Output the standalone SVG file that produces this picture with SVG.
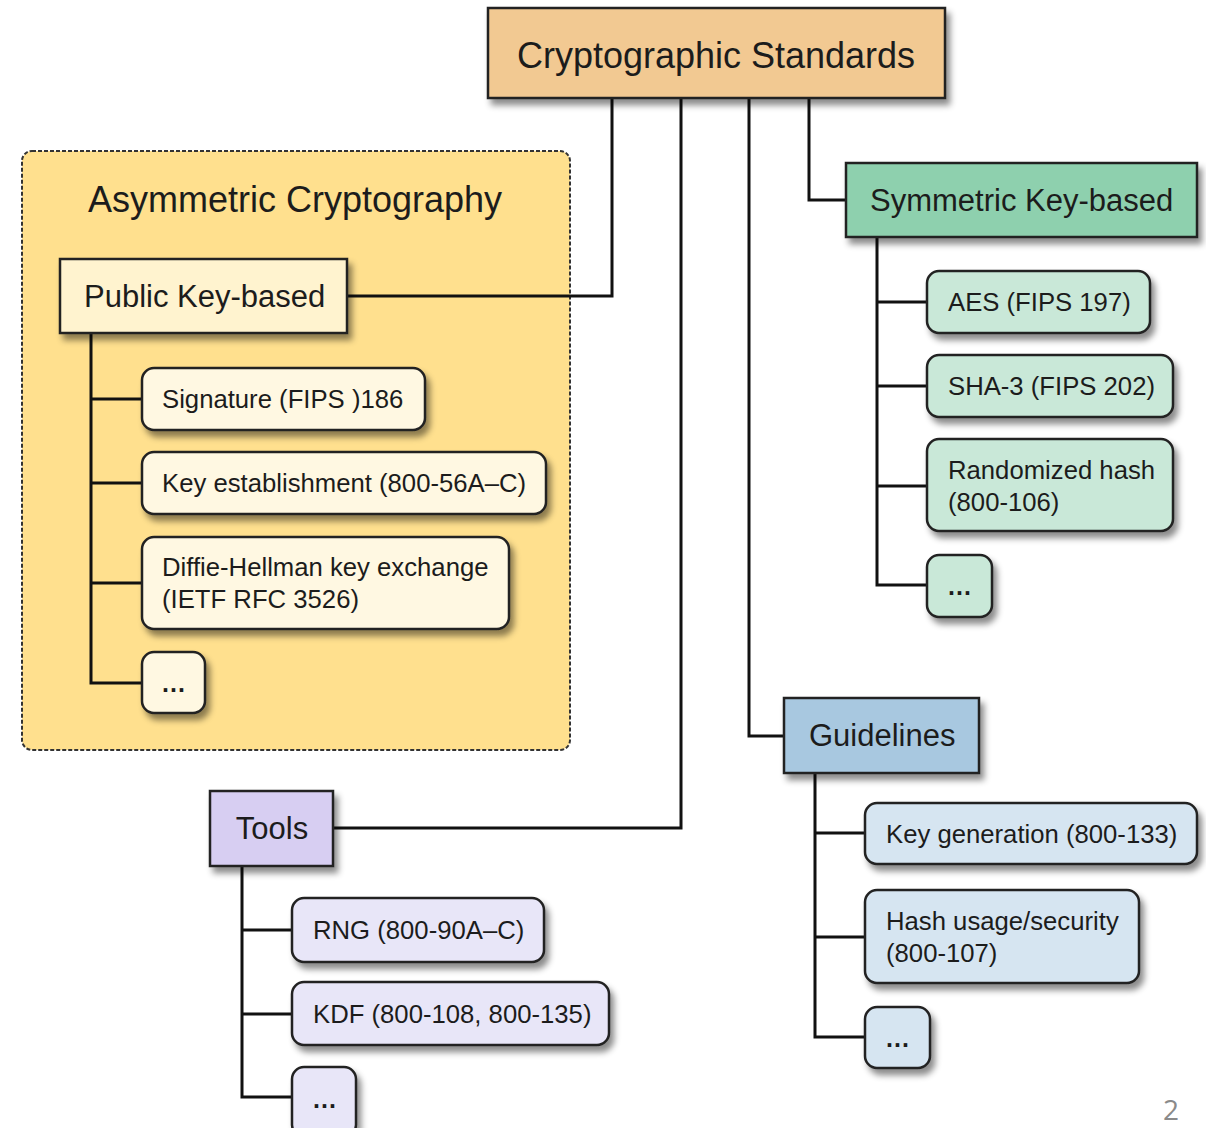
<svg xmlns="http://www.w3.org/2000/svg" width="1206" height="1128" viewBox="0 0 1206 1128">
<defs>
<filter id="sh" x="-10%" y="-20%" width="130%" height="160%">
<feDropShadow dx="4" dy="6" stdDeviation="3" flood-color="#000" flood-opacity="0.45"/>
</filter>
<style>
.box{stroke:#222;stroke-width:2.5;filter:url(#sh)}
.t{font-family:"Liberation Sans",Arial,sans-serif;fill:#1c1c1c}
.big{font-size:36px}
.mid{font-size:31px}
.sm{font-size:25.7px}
.dots{font-size:25px;font-weight:bold;letter-spacing:1px}
.con{fill:none;stroke:#111;stroke-width:3}
.top{fill:#F2C992}
.asym{fill:#FFE08E;stroke:#333;stroke-width:2;stroke-dasharray:4 2}
.pk{fill:#FFF3CF}
.pkc{fill:#FFF8E2}
.sym{fill:#8ED0AE}
.symc{fill:#C9E8D8}
.tool{fill:#D7CEF2}
.toolc{fill:#E8E6F8}
.gl{fill:#A8C8E0}
.glc{fill:#D6E5F1}
</style>
</defs>
<rect width="1206" height="1128" fill="#fff"/>

<g id="asymmetric-group">
<rect class="asym" x="22" y="151" width="548" height="599" rx="10"/>
<text class="t big" x="88" y="212">Asymmetric Cryptography</text>
</g>

<g id="connectors">
<path class="con" d="M612 98 V296 H347"/>
<path class="con" d="M681 98 V828 H333"/>
<path class="con" d="M749 98 V736 H784"/>
<path class="con" d="M809 98 V200 H846"/>
<path class="con" d="M91 333 V683 H142 M91 399 H142 M91 483 H142 M91 583 H142"/>
<path class="con" d="M877 237 V585 H927 M877 302 H927 M877 386 H927 M877 486 H927"/>
<path class="con" d="M242 866 V1097 H292 M242 930 H292 M242 1014 H292"/>
<path class="con" d="M815 773 V1037 H865 M815 833 H865 M815 937 H865"/>
</g>

<g id="crypto-standards">
<rect class="box top" x="488" y="8" width="457" height="90"/>
<text class="t big" x="716" y="68" text-anchor="middle">Cryptographic Standards</text>
</g>

<g id="public-key">
<rect class="box pk" x="60" y="259" width="287" height="74"/>
<text class="t mid" x="84" y="307">Public Key-based</text>
</g>
<g id="signature">
<rect class="box pkc" x="142" y="368" width="283" height="62" rx="12"/>
<text class="t sm" x="162" y="408">Signature (FIPS )186</text>
</g>
<g id="key-establishment">
<rect class="box pkc" x="142" y="452" width="404" height="62" rx="12"/>
<text class="t sm" x="162" y="492">Key establishment (800-56A–C)</text>
</g>
<g id="diffie-hellman">
<rect class="box pkc" x="142" y="537" width="367" height="92" rx="12"/>
<text class="t sm" x="162" y="576">Diffie-Hellman key exchange</text>
<text class="t sm" x="162" y="608">(IETF RFC 3526)</text>
</g>
<g id="asym-more">
<rect class="box pkc" x="142" y="652" width="63" height="61" rx="12"/>
<text class="t dots" x="174" y="692" text-anchor="middle">...</text>
</g>

<g id="symmetric">
<rect class="box sym" x="846" y="163" width="351" height="74"/>
<text class="t mid" x="870" y="211">Symmetric Key-based</text>
</g>
<g id="aes">
<rect class="box symc" x="927" y="271" width="223" height="62" rx="12"/>
<text class="t sm" x="948" y="311">AES (FIPS 197)</text>
</g>
<g id="sha3">
<rect class="box symc" x="927" y="355" width="246" height="62" rx="12"/>
<text class="t sm" x="948" y="395">SHA-3 (FIPS 202)</text>
</g>
<g id="randomized-hash">
<rect class="box symc" x="927" y="439" width="246" height="92" rx="12"/>
<text class="t sm" x="948" y="479">Randomized hash</text>
<text class="t sm" x="948" y="511">(800-106)</text>
</g>
<g id="sym-more">
<rect class="box symc" x="927" y="555" width="65" height="62" rx="12"/>
<text class="t dots" x="960" y="595" text-anchor="middle">...</text>
</g>

<g id="tools">
<rect class="box tool" x="210" y="791" width="123" height="75"/>
<text class="t mid" x="272" y="839" text-anchor="middle">Tools</text>
</g>
<g id="rng">
<rect class="box toolc" x="292" y="898" width="252" height="64" rx="12"/>
<text class="t sm" x="313" y="939">RNG (800-90A–C)</text>
</g>
<g id="kdf">
<rect class="box toolc" x="292" y="982" width="317" height="63" rx="12"/>
<text class="t sm" x="313" y="1023">KDF (800-108, 800-135)</text>
</g>
<g id="tools-more">
<rect class="box toolc" x="292" y="1067" width="64" height="70" rx="12"/>
<text class="t dots" x="325" y="1108" text-anchor="middle">...</text>
</g>

<g id="guidelines">
<rect class="box gl" x="784" y="698" width="195" height="75"/>
<text class="t mid" x="809" y="746">Guidelines</text>
</g>
<g id="key-generation">
<rect class="box glc" x="865" y="803" width="332" height="61" rx="12"/>
<text class="t sm" x="886" y="843">Key generation (800-133)</text>
</g>
<g id="hash-usage">
<rect class="box glc" x="865" y="890" width="274" height="93" rx="12"/>
<text class="t sm" x="886" y="930">Hash usage/security</text>
<text class="t sm" x="886" y="962">(800-107)</text>
</g>
<g id="guide-more">
<rect class="box glc" x="865" y="1007" width="65" height="61" rx="12"/>
<text class="t dots" x="898" y="1047" text-anchor="middle">...</text>
</g>

<text x="1171" y="1120" text-anchor="middle" font-family="'Open Sans','Liberation Sans',sans-serif" font-size="28" fill="#8a8a8a">2</text>
</svg>
